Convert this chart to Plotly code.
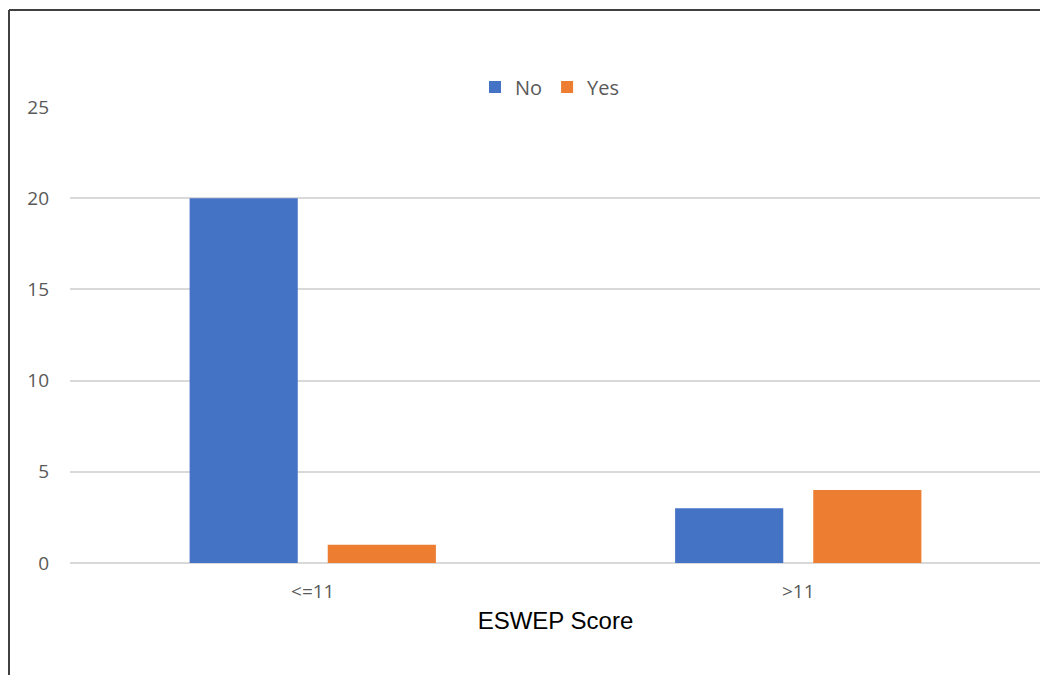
import plotly.graph_objects as go

categories = ["<=11", ">11"]
no_values = [20, 3]
yes_values = [1, 4]
y_ticks = [0, 5, 10, 15, 20, 25]

# page body adds an 8px offset; layout is expressed in screen pixels minus that offset
OFF = 8
W, H = 1048, 675
L = 70 - OFF
T = 107 - OFF
R = W - (1041 - OFF)
B = H - (563 - OFF)
pw = W - L - R
ph = H - T - B

def px_x(x):
    return (x - OFF - L) / pw

def px_y(y):
    return (H - B - (y - OFF)) / ph

fig = go.Figure()
fig.add_trace(go.Bar(name="No", x=categories, y=no_values, marker=dict(color="#4472C4", line=dict(width=0))))
fig.add_trace(go.Bar(name="Yes", x=categories, y=yes_values, marker=dict(color="#ED7D31", line=dict(width=0))))

tick_font = dict(family="Open Sans", size=19, color="#595959")

fig.update_layout(
    width=W, height=H,
    margin=dict(l=L, r=R, t=T, b=B),
    paper_bgcolor="white", plot_bgcolor="white",
    barmode="group", bargap=0.431, bargroupgap=0.217,
    showlegend=True,
    legend=dict(orientation="h", x=px_x(550), xanchor="center", y=px_y(87), yanchor="middle",
                font=dict(family="Open Sans", size=20, color="#595959"), bgcolor="rgba(0,0,0,0)"),
    xaxis=dict(showgrid=False, showline=False, zeroline=False, ticks="",
               tickfont=tick_font, ticklabelstandoff=15,
               title=dict(text="ESWEP Score", font=dict(family="Liberation Sans", size=24, color="black"), standoff=9)),
    yaxis=dict(range=[0, 25], tickvals=y_ticks, showgrid=True, gridcolor="#D9D9D9", gridwidth=1.5,
               zeroline=True, zerolinecolor="#D9D9D9", zerolinewidth=1.5, showline=False, ticks="",
               tickfont=tick_font, ticklabelstandoff=20),
    shapes=[
        dict(type="line", xref="paper", yref="paper", x0=px_x(9), x1=px_x(1070), y0=px_y(10), y1=px_y(10),
             line=dict(color="#404040", width=2)),
        dict(type="line", xref="paper", yref="paper", x0=px_x(9), x1=px_x(9), y0=px_y(10), y1=px_y(700),
             line=dict(color="#404040", width=2)),
    ],
)

fig.write_html("out.html")
